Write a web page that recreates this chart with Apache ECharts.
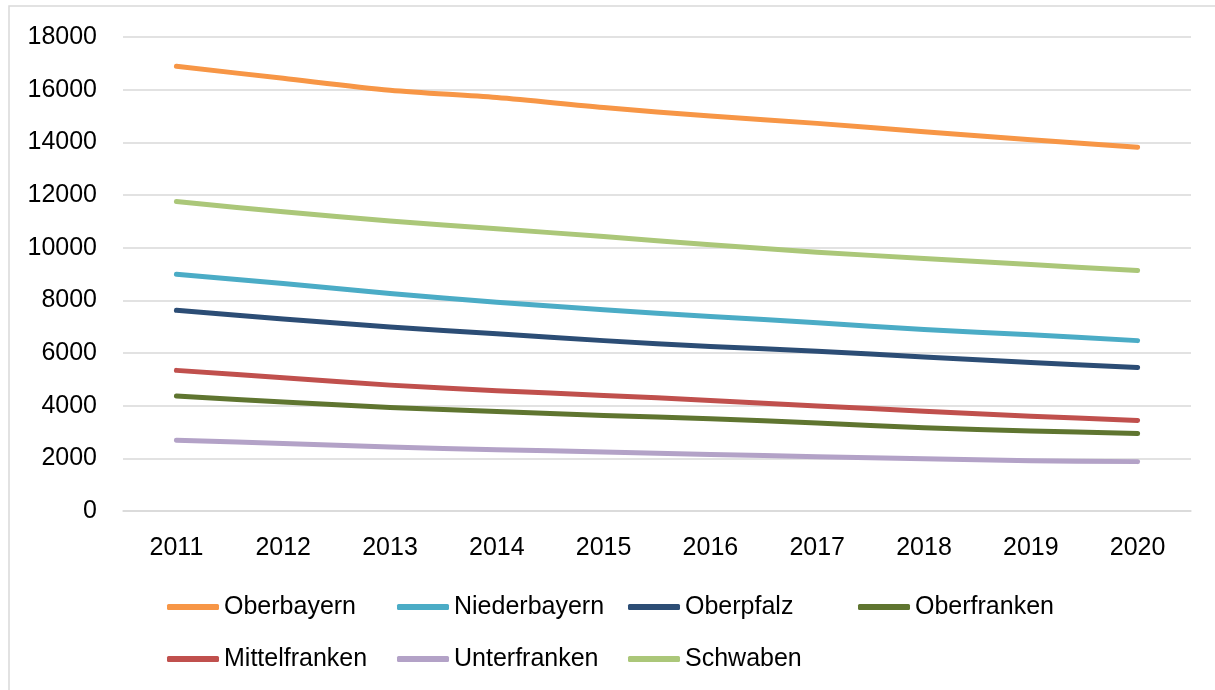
<!DOCTYPE html>
<html>
<head>
<meta charset="utf-8">
<script src="https://cdn.jsdelivr.net/npm/echarts@6/dist/echarts.min.js"></script>
<style>
  html, body { margin: 0; padding: 0; background: #fff; }
</style>
</head>
<body>
<div id="main" style="width:1215px; height:690px"></div>
<script>
var years = ["2011", "2012", "2013", "2014", "2015", "2016", "2017", "2018", "2019", "2020"];

var oberbayern    = [16890, 16430, 15980, 15700, 15320, 15000, 14720, 14400, 14100, 13810];
var niederbayern  = [8990, 8640, 8260, 7930, 7640, 7390, 7150, 6890, 6690, 6470];
var oberpfalz     = [7620, 7290, 6990, 6730, 6470, 6250, 6070, 5850, 5640, 5445];
var oberfranken   = [4370, 4140, 3930, 3780, 3630, 3500, 3340, 3160, 3040, 2940];
var mittelfranken = [5340, 5060, 4780, 4570, 4390, 4200, 3990, 3790, 3600, 3440];
var unterfranken  = [2690, 2560, 2430, 2330, 2240, 2150, 2060, 1980, 1910, 1875];
var schwaben      = [11750, 11360, 11010, 10720, 10420, 10110, 9830, 9590, 9360, 9130];

var yTicks = { min: 0, max: 18000, interval: 2000 };

var font = "'Liberation Sans', Arial, sans-serif";

var myChart = echarts.init(document.getElementById("main"));

function line(name, data, color) {
  return {
    name: name,
    type: "line",
    data: data,
    smooth: 0.3,
    showSymbol: false,
    color: color,
    lineStyle: { width: 5, color: color, cap: "round", join: "round" },
    emphasis: { disabled: true }
  };
}

function legendCol(left, names) {
  return {
    orient: "vertical",
    left: left,
    top: 589,
    data: names,
    icon: "roundRect",
    itemWidth: 52,
    itemHeight: 6,
    itemGap: 26,
    selectedMode: false,
    textStyle: { fontFamily: font, fontSize: 25, color: "#000", lineHeight: 26 }
  };
}

var option = {
  backgroundColor: "#fff",
  animation: false,
  graphic: [{
    type: "rect",
    shape: { x: 9, y: 6, width: 1230, height: 720 },
    style: { fill: "none", stroke: "#d9d9d9", lineWidth: 1.5 },
    silent: true
  }],
  grid: { left: 123, right: 24, top: 37, bottom: 179, containLabel: false },
  legend: [
    legendCol(162, ["Oberbayern", "Mittelfranken"]),
    legendCol(392, ["Niederbayern", "Unterfranken"]),
    legendCol(623, ["Oberpfalz", "Schwaben"]),
    legendCol(853, ["Oberfranken"])
  ],
  xAxis: {
    type: "category",
    data: years,
    boundaryGap: true,
    axisLine: { show: true, lineStyle: { color: "#d9d9d9", width: 1.5 } },
    axisTick: { show: false },
    axisLabel: { fontFamily: font, fontSize: 25, color: "#000", margin: 25 }
  },
  yAxis: {
    type: "value",
    min: yTicks.min,
    max: yTicks.max,
    interval: yTicks.interval,
    axisLine: { show: false },
    axisTick: { show: false },
    splitLine: { lineStyle: { color: "#d9d9d9", width: 1.5 } },
    axisLabel: {
      fontFamily: font, fontSize: 25, color: "#000", margin: 26,
      formatter: function (v) { return String(v); }
    }
  },
  series: [
    line("Oberbayern", oberbayern, "#F79646"),
    line("Niederbayern", niederbayern, "#4BACC6"),
    line("Oberpfalz", oberpfalz, "#2C4D75"),
    line("Oberfranken", oberfranken, "#5F7530"),
    line("Mittelfranken", mittelfranken, "#C0504D"),
    line("Unterfranken", unterfranken, "#B3A2C7"),
    line("Schwaben", schwaben, "#ABC779")
  ]
};

option && myChart.setOption(option);
</script>
</body>
</html>
